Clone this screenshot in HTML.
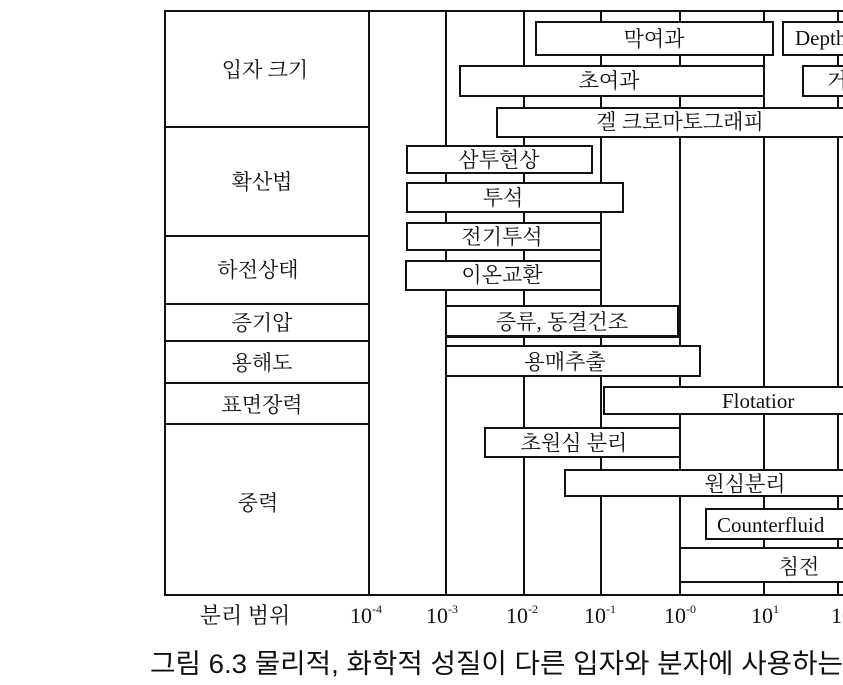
<!DOCTYPE html>
<html><head><meta charset="utf-8"><style>
body{margin:0;background:#fff;width:843px;height:680px;overflow:hidden}
svg text{font-family:"Liberation Serif","Noto Serif CJK SC","Noto Sans CJK KR",serif;fill:#111}
</style></head><body>
<svg width="843" height="680" viewBox="0 0 843 680" xmlns="http://www.w3.org/2000/svg">
<g stroke="#111" stroke-width="2" fill="none">
<rect x="165" y="11" width="700" height="584"/>
<line x1="446" y1="11" x2="446" y2="595"/>
<line x1="524" y1="11" x2="524" y2="595"/>
<line x1="601" y1="11" x2="601" y2="595"/>
<line x1="680" y1="11" x2="680" y2="595"/>
<line x1="764" y1="11" x2="764" y2="595"/>
<line x1="838" y1="11" x2="838" y2="595"/>
<line x1="369" y1="11" x2="369" y2="595"/>
<line x1="165" y1="127" x2="369" y2="127"/>
<line x1="165" y1="236" x2="369" y2="236"/>
<line x1="165" y1="304" x2="369" y2="304"/>
<line x1="165" y1="341" x2="369" y2="341"/>
<line x1="165" y1="383" x2="369" y2="383"/>
<line x1="165" y1="424" x2="369" y2="424"/>
<line x1="446" y1="337" x2="680" y2="337"/>
<line x1="680" y1="582" x2="865" y2="582"/>
</g>
<g stroke="#111" stroke-width="2" fill="#fff">
<rect x="536" y="22" width="237" height="33"/>
<rect x="783" y="22" width="80" height="33"/>
<rect x="460" y="66" width="304" height="30"/>
<rect x="803" y="66" width="60" height="30"/>
<rect x="497" y="108" width="366" height="29"/>
<rect x="407" y="146" width="185" height="27"/>
<rect x="407" y="183" width="216" height="29"/>
<rect x="407" y="223" width="194" height="27"/>
<rect x="406" y="261" width="195" height="29"/>
<rect x="446" y="306" width="232" height="30"/>
<rect x="446" y="346" width="254" height="30"/>
<rect x="604" y="387" width="260" height="27"/>
<rect x="485" y="428" width="195" height="29"/>
<rect x="565" y="470" width="299" height="26"/>
<rect x="706" y="509" width="158" height="30"/>
<rect x="680" y="548" width="184" height="34"/>
</g>
<g font-size="21" text-anchor="middle">
<text x="265" y="77">입자 크기</text>
<text x="262" y="189">확산법</text>
<text x="258" y="277">하전상태</text>
<text x="262" y="330">증기압</text>
<text x="262" y="370">용해도</text>
<text x="262" y="412">표면장력</text>
<text x="258" y="510">중력</text>
<text x="654" y="46">막여과</text>
<text x="609" y="88">초여과</text>
<text x="680" y="129">겔 크로마토그래피</text>
<text x="499" y="167">삼투현상</text>
<text x="503" y="205">투석</text>
<text x="502" y="244">전기투석</text>
<text x="502" y="282">이온교환</text>
<text x="562" y="329">증류, 동결건조</text>
<text x="565" y="369">용매추출</text>
<text x="574" y="450">초원심 분리</text>
<text x="745" y="491">원심분리</text>
<text x="799" y="574">침전</text>
</g>
<g font-size="21">
<text x="795" y="45">Depth</text>
<text x="827" y="88">거</text>
<text x="722" y="408">Flotatior</text>
<text x="717" y="532">Counterfluid</text>
</g>
<g font-size="22" text-anchor="middle">
<text x="245" y="623">분리 범위</text>
<text x="366" y="623">10<tspan font-size="12" dy="-10">-4</tspan></text>
<text x="442" y="623">10<tspan font-size="12" dy="-10">-3</tspan></text>
<text x="522" y="623">10<tspan font-size="12" dy="-10">-2</tspan></text>
<text x="600" y="623">10<tspan font-size="12" dy="-10">-1</tspan></text>
<text x="680" y="623">10<tspan font-size="12" dy="-10">-0</tspan></text>
<text x="765" y="623">10<tspan font-size="12" dy="-10">1</tspan></text>
<text x="845" y="623">10<tspan font-size="12" dy="-10">2</tspan></text>
</g>
<text x="150" y="673" font-size="27" textLength="693" lengthAdjust="spacingAndGlyphs" style="font-family:'Liberation Sans','Noto Sans CJK KR',sans-serif">그림 6.3 물리적, 화학적 성질이 다른 입자와 분자에 사용하는</text>
</svg>
</body></html>
